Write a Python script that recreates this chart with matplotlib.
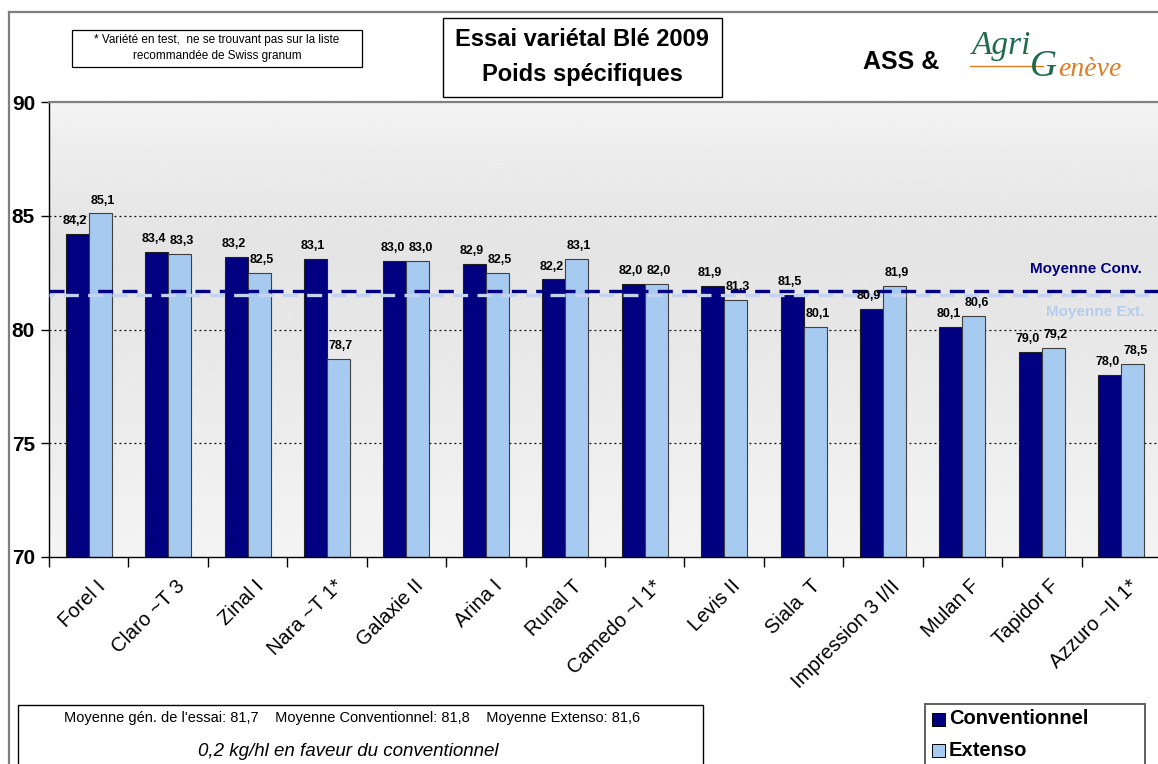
import numpy as np
import matplotlib
matplotlib.use("Agg")
import matplotlib.pyplot as plt
from matplotlib.patches import Rectangle
from matplotlib.lines import Line2D
import matplotlib.transforms as mtrans

# ---------------- data ----------------
varieties = ["Forel I", "Claro ~T 3", "Zinal I", "Nara ~T 1*", "Galaxie II", "Arina I",
             "Runal T", "Camedo ~I 1*", "Levis II", "Siala  T", "Impression 3 I/II",
             "Mulan F", "Tapidor F", "Azzuro ~II 1*"]
conv = [84.2, 83.4, 83.2, 83.1, 83.0, 82.9, 82.2, 82.0, 81.9, 81.5, 80.9, 80.1, 79.0, 78.0]
ext = [85.1, 83.3, 82.5, 78.7, 83.0, 82.5, 83.1, 82.0, 81.3, 80.1, 81.9, 80.6, 79.2, 78.5]
mean_conv_line = 81.7
mean_ext_line = 81.5
yticks = [70, 75, 80, 85, 90]
series_names = ["Conventionnel", "Extenso"]

title_lines = ["Essai variétal Blé 2009", "Poids spécifiques"]
note_lines = ["* Variété en test,  ne se trouvant pas sur la liste", "recommandée de Swiss granum"]
summary_line = "Moyenne gén. de l'essai: 81,7    Moyenne Conventionnel: 81,8    Moyenne Extenso: 81,6"
summary_italic = "0,2 kg/hl en faveur du conventionnel"

C_CONV = "#000080"
C_EXT = "#a6caf0"
C_EXT_TXT = "#b4cdee"

W, H = 1158, 764
SANS = ["Liberation Sans", "DejaVu Sans"]
NARROW = ["Liberation Sans Narrow", "Liberation Sans", "DejaVu Sans"]
SERIF = ["Liberation Serif", "DejaVu Serif"]
plt.rcParams["font.family"] = SANS

fig = plt.figure(figsize=(W / 100, H / 100), dpi=100)
fig.patch.set_facecolor("white")


def fx(px):
    return px / W


def fy(py):
    return 1 - py / H


# outer frame (left and top visible)
fig.add_artist(Line2D([fx(9), fx(9)], [fy(12), fy(H + 5)], color="#808080", lw=1.6))
fig.add_artist(Line2D([fx(9), fx(W + 5)], [fy(12), fy(12)], color="#808080", lw=1.6))

# axes
ax_l, ax_r, ax_t, ax_b = 49, 1161, 102, 557
ax = fig.add_axes([fx(ax_l), fy(ax_b), (ax_r - ax_l) / W, (ax_b - ax_t) / H])
n = len(varieties)
x = np.arange(n)
ax.set_xlim(-0.5, n - 0.5)
ax.set_ylim(70, 90)

# gradient background
grad_y = np.array([70, 74, 80, 84, 88, 90])
grad_v = np.array([0.955, 0.935, 0.905, 0.895, 0.93, 0.955])
yy = np.linspace(70, 90, 300)
vals = np.interp(yy, grad_y, grad_v)[::-1]
img = np.repeat(vals[:, None], 2, axis=1)
ax.imshow(img, cmap="gray", vmin=0, vmax=1, extent=(-0.5, n - 0.5, 70, 90),
          aspect="auto", zorder=0, interpolation="bilinear")

# grid lines
for yv in [75, 80, 85]:
    ax.axhline(yv, color="black", lw=0.9, ls=(0, (1.5, 2.5)), zorder=1)

bw = 0.29
ax.bar(x - bw / 2, conv, width=bw, bottom=0, color=C_CONV, edgecolor="#202020", lw=0.8, zorder=2)
ax.bar(x + bw / 2, ext, width=bw, bottom=0, color=C_EXT, edgecolor="#404040", lw=0.8, zorder=2)

# mean lines
ax.axhline(mean_ext_line, color="#c4d4f0", lw=2.4, ls=(3, (4.5, 2.8)), zorder=3)
ax.axhline(mean_conv_line, color=C_CONV, lw=2.4, ls=(0, (4.5, 2.8)), zorder=3)

ax.text(11.85, 82.65, "Moyenne Conv.", color=C_CONV, fontsize=11, fontweight="bold",
        ha="left", va="center", zorder=4)
ax.text(12.05, 80.75, "Moyenne Ext.", color=C_EXT_TXT, fontsize=11, fontweight="bold",
        ha="left", va="center", zorder=4)


def fmt(v):
    return f"{v:.1f}".replace(".", ",")


for i in range(n):
    ax.annotate(fmt(conv[i]), (x[i] - bw / 2 - 0.03, conv[i]), xytext=(0, 5),
                textcoords="offset points", ha="center", va="bottom", fontsize=9,
                fontweight="bold", family=NARROW, zorder=4)
    ax.annotate(fmt(ext[i]), (x[i] + bw / 2 + 0.03, ext[i]), xytext=(0, 5),
                textcoords="offset points", ha="center", va="bottom", fontsize=9,
                fontweight="bold", family=NARROW, zorder=4)

# spines
ax.spines["right"].set_visible(False)
ax.spines["top"].set_color("#808080")
ax.spines["top"].set_linewidth(1.6)
ax.spines["left"].set_color("black")
ax.spines["bottom"].set_color("black")
ax.spines["left"].set_linewidth(1.0)
ax.spines["bottom"].set_linewidth(1.0)

ax.set_yticks(yticks)
ax.set_yticklabels([str(v) for v in yticks], fontsize=15, fontweight="bold")
ax.tick_params(axis="y", direction="out", length=6, width=1, pad=4)

ax.set_xticks(x)
ax.set_xticks(np.arange(-0.5, n), minor=True)
ax.set_xticklabels(varieties, rotation=45, ha="right", rotation_mode="anchor",
                   fontsize=14.5, fontweight="normal")
ax.tick_params(axis="x", which="major", length=0, pad=14)
ax.tick_params(axis="x", which="minor", direction="out", length=7, width=1)
offset = mtrans.ScaledTranslation(7 / 100, 0, fig.dpi_scale_trans)
for lab in ax.get_xticklabels():
    lab.set_transform(lab.get_transform() + offset)

# note box
fig.add_artist(Rectangle((fx(72), fy(67)), (362 - 72) / W, (67 - 30) / H,
                         fill=True, facecolor="white", edgecolor="black", lw=0.9))
fig.text(fx(217), fy(40), note_lines[0], ha="center", va="center", fontsize=8.5, family=NARROW)
fig.text(fx(217), fy(56), note_lines[1], ha="center", va="center", fontsize=8.5, family=NARROW)

# title box
fig.add_artist(Rectangle((fx(443), fy(97)), (722 - 443) / W, (97 - 18) / H,
                         fill=True, facecolor="white", edgecolor="black", lw=1.0, zorder=5))
fig.text(fx(582), fy(40), title_lines[0], ha="center", va="center", fontsize=17,
         fontweight="bold", zorder=6)
fig.text(fx(582), fy(75), title_lines[1], ha="center", va="center", fontsize=17,
         fontweight="bold", zorder=6)

# ASS & logo
fig.text(fx(901), fy(62), "ASS &", ha="center", va="center", fontsize=18, fontweight="bold")
fig.text(fx(972), fy(46), "Agri", ha="left", va="center", fontsize=24, style="italic",
         family=SERIF, color="#1f6b4c")
fig.add_artist(Line2D([fx(970), fx(1043)], [fy(66), fy(66)], color="#e07b20", lw=1.0))
fig.text(fx(1030), fy(67), "G", ha="left", va="center", fontsize=27, style="italic",
         family=SERIF, color="#1f6b4c")
fig.text(fx(1058), fy(70), "enève", ha="left", va="center", fontsize=20, style="italic",
         family=SERIF, color="#e07b20")

# summary box
fig.add_artist(Rectangle((fx(18), fy(H + 5)), (703 - 18) / W, (H + 5 - 705) / H,
                         fill=True, facecolor="white", edgecolor="black", lw=1.0))
fig.text(fx(352), fy(718), summary_line, ha="center", va="center", fontsize=10.5, family=NARROW)
fig.text(fx(348), fy(751), summary_italic, ha="center", va="center", fontsize=13.5,
         style="italic", family=NARROW)

# legend box
fig.add_artist(Rectangle((fx(925), fy(H + 5)), (1145 - 925) / W, (H + 5 - 704) / H,
                         fill=True, facecolor="white", edgecolor="#606060", lw=1.4))
fig.add_artist(Rectangle((fx(932), fy(726)), 13 / W, 13 / H, facecolor=C_CONV,
                         edgecolor="black", lw=0.7))
fig.add_artist(Rectangle((fx(932), fy(757)), 13 / W, 13 / H, facecolor=C_EXT,
                         edgecolor="black", lw=0.7))
fig.text(fx(949), fy(719), series_names[0], ha="left", va="center", fontsize=14.5, fontweight="bold")
fig.text(fx(949), fy(750), series_names[1], ha="left", va="center", fontsize=14.5, fontweight="bold")

fig.savefig("out.png", dpi=100)
